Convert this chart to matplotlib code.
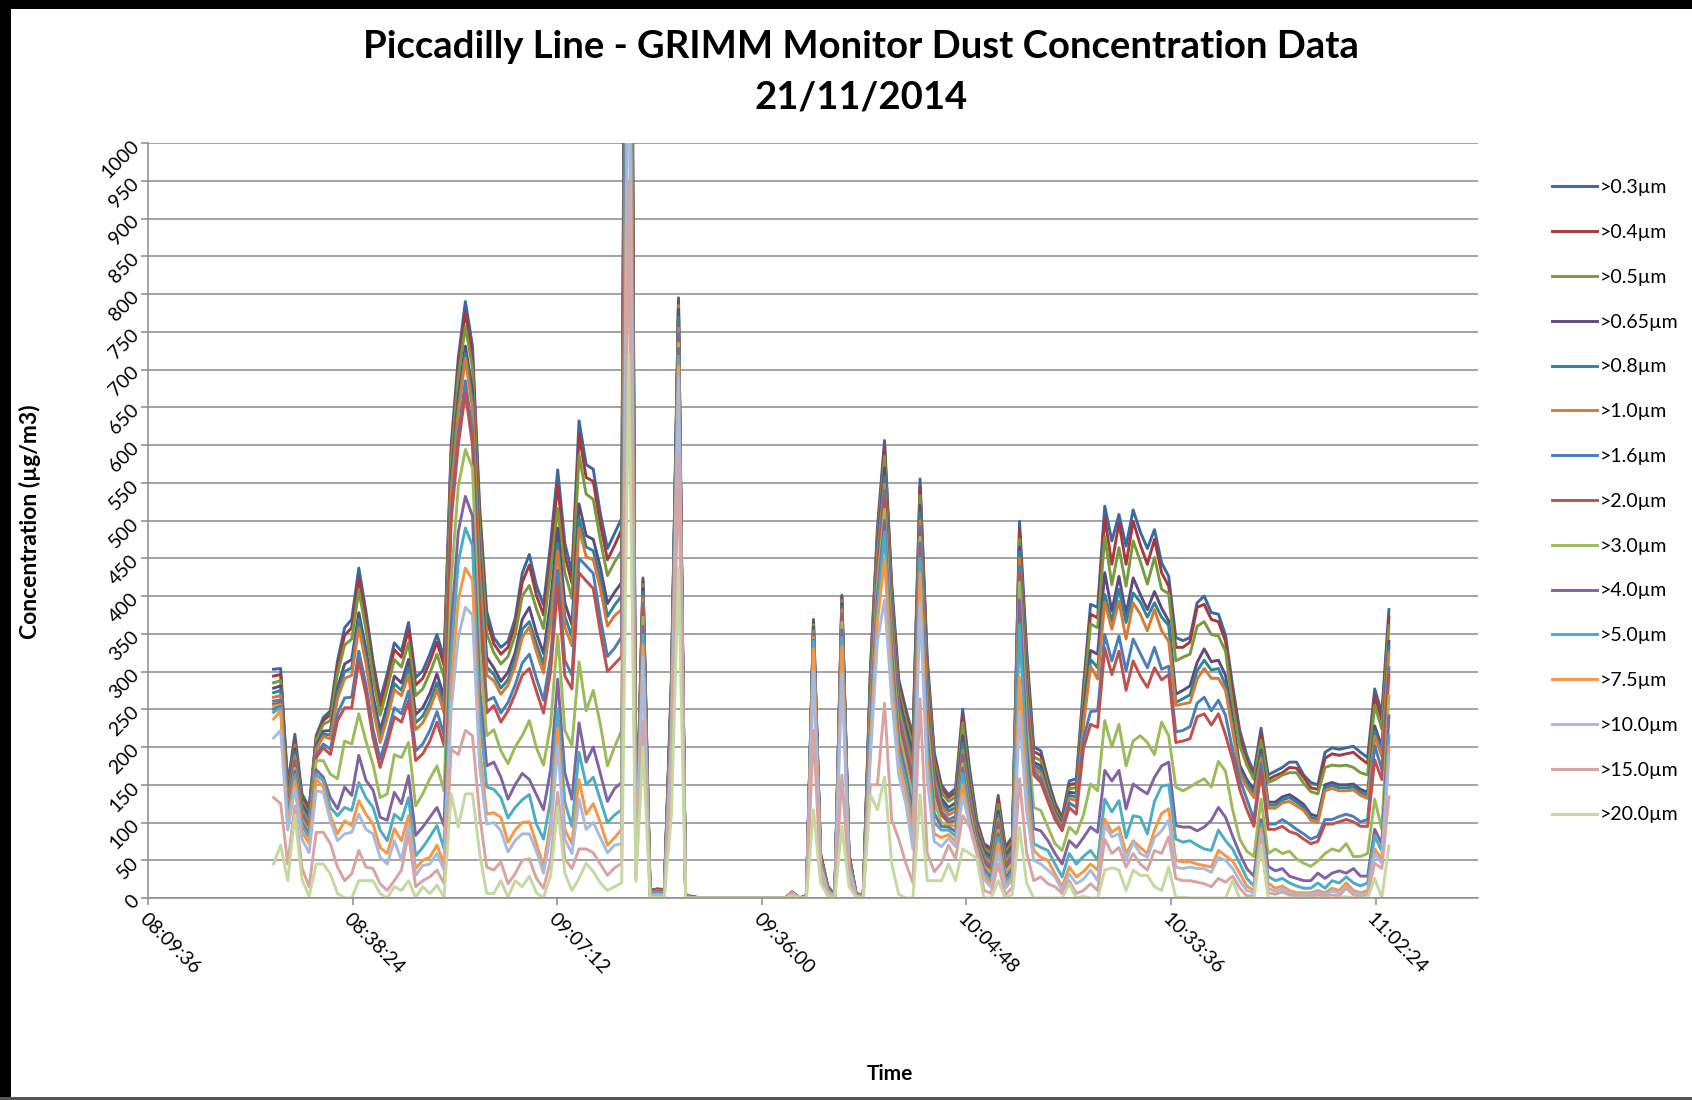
import datetime as dt

import matplotlib
matplotlib.use("Agg")
import matplotlib.pyplot as plt
import matplotlib.dates as mdates
from matplotlib.patches import Rectangle

# one reading per minute, first sample ~08:27
START = dt.datetime(2014, 11, 21, 8, 27, 16)
STEP_MIN = 1

SIZES = [">0.3µm", ">0.4µm", ">0.5µm", ">0.65µm", ">0.8µm", ">1.0µm", ">1.6µm",
         ">2.0µm", ">3.0µm", ">4.0µm", ">5.0µm", ">7.5µm", ">10.0µm", ">15.0µm",
         ">20.0µm"]
COLORS = ["#3A68A4", "#A6393B", "#779A3D", "#5F4A80", "#2E8599", "#D77A35",
          "#4A7EBB", "#C0504D", "#9BBB59", "#8064A2", "#4BACC6", "#F79646",
          "#A7B9DD", "#D9A3A2", "#C4D8A0"]

# concentrations in ug/m3
gt_0_3 = [303, 304, 150, 217, 138, 120, 215, 239, 248, 314,
          358, 369, 437, 380, 314, 262, 297, 338, 327, 365,
          292, 301, 323, 349, 318, 600, 715, 790, 731, 520,
          380, 345, 332, 340, 370, 430, 455, 414, 388, 470,
          567, 470, 431, 632, 574, 568, 509, 463, 483, 503,
          2200, 45, 424, 10, 12, 11, 290, 795, 3, 2,
          0, 0, 0, 0, 0, 0, 0, 0, 0, 0,
          0, 0, 0, 8, 0, 3, 369, 59, 16, 3,
          401, 59, 6, 3, 300, 490, 606, 418, 290, 250,
          215, 555, 320, 193, 150, 137, 145, 250, 169, 103,
          72, 66, 136, 68, 81, 499, 330, 200, 195, 158,
          126, 107, 155, 158, 280, 389, 385, 519, 473, 508,
          466, 514, 485, 463, 488, 444, 426, 345, 341, 345,
          391, 400, 378, 376, 348, 281, 222, 189, 166, 225,
          163, 168, 173, 180, 180, 163, 153, 150, 193, 199,
          197, 199, 201, 193, 186, 277, 245, 382]
gt_0_4 = [294, 296, 145, 210, 133, 116, 212, 235, 243, 307,
          348, 358, 424, 370, 305, 254, 289, 329, 319, 356,
          282, 291, 313, 339, 308, 591, 705, 776, 719, 507,
          368, 337, 323, 332, 361, 418, 441, 401, 375, 455,
          548, 454, 417, 614, 557, 552, 495, 448, 467, 488,
          2150, 44, 420, 10, 12, 11, 285, 790, 3, 2,
          0, 0, 0, 0, 0, 0, 0, 0, 0, 0,
          0, 0, 0, 8, 0, 3, 366, 58, 16, 3,
          398, 58, 6, 3, 295, 483, 598, 410, 283, 244,
          208, 545, 312, 188, 146, 133, 140, 243, 163, 99,
          69, 63, 131, 65, 78, 488, 318, 194, 189, 153,
          122, 104, 150, 152, 272, 376, 371, 504, 442, 497,
          442, 499, 468, 442, 475, 431, 413, 332, 332, 339,
          385, 389, 369, 366, 340, 270, 212, 182, 160, 218,
          157, 162, 166, 173, 172, 160, 146, 144, 185, 191,
          189, 191, 193, 185, 178, 268, 235, 372]
gt_0_5 = [285, 288, 140, 203, 128, 112, 209, 230, 235, 297,
          335, 343, 407, 356, 292, 242, 277, 316, 306, 338,
          268, 277, 298, 323, 292, 578, 690, 757, 702, 489,
          350, 325, 310, 320, 348, 400, 414, 383, 357, 433,
          516, 431, 397, 587, 535, 528, 474, 427, 445, 460,
          2100, 43, 415, 9, 11, 10, 280, 785, 3, 2,
          0, 0, 0, 0, 0, 0, 0, 0, 0, 0,
          0, 0, 0, 8, 0, 3, 362, 57, 15, 3,
          394, 57, 6, 3, 290, 476, 585, 400, 275, 236,
          200, 533, 303, 180, 140, 128, 134, 232, 155, 95,
          66, 60, 124, 61, 74, 475, 305, 187, 182, 148,
          118, 101, 145, 146, 262, 363, 358, 479, 415, 464,
          413, 473, 446, 416, 451, 409, 403, 314, 319, 323,
          360, 366, 349, 347, 327, 255, 202, 176, 157, 209,
          153, 157, 163, 166, 166, 152, 141, 138, 173, 176,
          175, 176, 173, 166, 163, 255, 224, 360]
gt_0_65 = [278, 281, 135, 198, 124, 108, 202, 221, 222, 278,
           310, 316, 378, 330, 268, 222, 255, 294, 285, 316,
           243, 252, 271, 297, 266, 555, 663, 731, 672, 457,
           319, 305, 287, 299, 325, 369, 385, 351, 324, 394,
           490, 391, 362, 522, 480, 475, 438, 390, 405, 418,
           2050, 42, 410, 9, 11, 10, 275, 780, 3, 2,
           0, 0, 0, 0, 0, 0, 0, 0, 0, 0,
           0, 0, 0, 8, 0, 3, 359, 56, 15, 3,
           390, 56, 5, 3, 283, 468, 570, 390, 266, 226,
           190, 520, 292, 172, 132, 120, 126, 215, 145, 89,
           62, 55, 115, 56, 69, 465, 290, 180, 175, 142,
           114, 98, 140, 139, 245, 328, 323, 431, 380, 426,
           376, 424, 402, 382, 406, 384, 367, 270, 275, 281,
           312, 330, 313, 315, 295, 235, 176, 157, 144, 196,
           127, 127, 134, 137, 131, 124, 111, 108, 150, 153,
           150, 150, 151, 144, 140, 228, 200, 340]
gt_0_8 = [272, 275, 130, 193, 120, 104, 199, 217, 216, 271,
          300, 305, 369, 320, 258, 213, 246, 284, 275, 305,
          232, 241, 260, 285, 254, 545, 652, 721, 659, 443,
          306, 296, 278, 289, 315, 356, 366, 337, 309, 377,
          470, 373, 346, 503, 465, 460, 423, 373, 388, 400,
          2000, 41, 405, 8, 10, 9, 270, 770, 2, 1,
          0, 0, 0, 0, 0, 0, 0, 0, 0, 0,
          0, 0, 0, 7, 0, 2, 356, 55, 14, 3,
          386, 55, 5, 3, 278, 460, 558, 382, 258, 218,
          180, 510, 283, 165, 127, 115, 120, 205, 138, 85,
          59, 51, 110, 52, 65, 458, 280, 176, 170, 139,
          112, 96, 136, 134, 235, 316, 305, 402, 367, 409,
          365, 404, 392, 372, 391, 372, 361, 259, 264, 269,
          301, 315, 302, 304, 282, 228, 170, 152, 139, 190,
          123, 123, 130, 133, 127, 120, 107, 104, 146, 149,
          146, 146, 147, 140, 136, 221, 194, 332]
gt_1_0 = [266, 268, 125, 188, 116, 100, 197, 214, 211, 264,
          291, 295, 358, 311, 250, 206, 238, 276, 268, 296,
          223, 232, 251, 276, 245, 537, 643, 715, 648, 432,
          295, 288, 270, 282, 307, 345, 359, 326, 298, 363,
          460, 359, 334, 490, 452, 448, 410, 360, 374, 382,
          1950, 40, 398, 8, 10, 9, 265, 755, 2, 1,
          0, 0, 0, 0, 0, 0, 0, 0, 0, 0,
          0, 0, 0, 7, 0, 2, 353, 54, 14, 3,
          382, 54, 5, 3, 272, 452, 548, 373, 250, 210,
          170, 500, 275, 158, 122, 110, 115, 196, 132, 81,
          55, 47, 105, 48, 61, 450, 270, 172, 165, 136,
          110, 94, 132, 129, 228, 307, 290, 392, 356, 393,
          343, 391, 376, 354, 382, 354, 340, 255, 257, 259,
          290, 304, 291, 291, 275, 222, 165, 147, 133, 185,
          119, 119, 126, 128, 122, 116, 103, 100, 142, 145,
          142, 142, 143, 136, 132, 214, 188, 325]
gt_1_6 = [261, 262, 120, 182, 112, 96, 189, 204, 197, 244,
          265, 266, 327, 283, 224, 184, 215, 252, 244, 274,
          195, 204, 222, 247, 216, 512, 614, 685, 616, 397,
          261, 266, 245, 259, 282, 311, 323, 291, 262, 320,
          434, 315, 295, 450, 440, 430, 371, 320, 331, 346,
          1900, 39, 390, 7, 9, 8, 260, 748, 2, 1,
          0, 0, 0, 0, 0, 0, 0, 0, 0, 0,
          0, 0, 0, 7, 0, 2, 350, 53, 13, 2,
          376, 52, 5, 2, 265, 440, 540, 362, 240, 200,
          158, 492, 262, 150, 115, 104, 108, 190, 126, 77,
          50, 42, 100, 43, 56, 440, 258, 168, 158, 132,
          107, 91, 126, 120, 210, 247, 248, 349, 314, 347,
          301, 343, 324, 305, 332, 303, 307, 220, 222, 227,
          258, 266, 248, 262, 242, 196, 157, 131, 104, 178,
          98, 98, 104, 98, 91, 85, 78, 82, 104, 104,
          108, 111, 108, 101, 104, 202, 170, 305]
gt_2_0 = [257, 258, 117, 178, 108, 92, 186, 199, 190, 235,
          252, 252, 314, 270, 212, 173, 204, 240, 233, 261,
          182, 191, 208, 233, 202, 500, 600, 669, 600, 380,
          245, 255, 233, 248, 270, 295, 304, 274, 245, 300,
          414, 294, 277, 431, 420, 410, 352, 300, 310, 320,
          1850, 38, 384, 7, 9, 8, 255, 740, 2, 1,
          0, 0, 0, 0, 0, 0, 0, 0, 0, 0,
          0, 0, 0, 7, 0, 2, 348, 52, 13, 2,
          372, 51, 5, 2, 260, 432, 530, 355, 233, 192,
          150, 485, 255, 143, 110, 100, 103, 185, 121, 74,
          47, 38, 96, 39, 52, 430, 250, 163, 153, 128,
          104, 89, 120, 111, 198, 230, 226, 331, 296, 327,
          275, 314, 294, 279, 305, 289, 296, 206, 208, 211,
          240, 244, 229, 244, 216, 183, 144, 117, 95, 168,
          91, 91, 95, 88, 85, 78, 72, 75, 98, 98,
          101, 104, 101, 95, 95, 183, 157, 295]
gt_3_0 = [254, 256, 112, 172, 104, 88, 182, 182, 164, 158,
          208, 204, 244, 208, 177, 133, 138, 190, 186, 206,
          122, 138, 158, 175, 142, 420, 545, 594, 570, 330,
          215, 223, 195, 178, 200, 215, 235, 199, 176, 230,
          349, 222, 202, 313, 248, 275, 230, 175, 200, 222,
          1700, 36, 372, 6, 8, 7, 245, 735, 2, 1,
          0, 0, 0, 0, 0, 0, 0, 0, 0, 0,
          0, 0, 0, 7, 0, 2, 345, 50, 12, 2,
          365, 49, 4, 2, 245, 415, 515, 340, 220, 178,
          130, 478, 235, 128, 100, 97, 95, 178, 113, 70,
          42, 32, 90, 32, 45, 418, 230, 120, 116, 94,
          72, 63, 94, 85, 110, 151, 142, 235, 200, 230,
          175, 208, 215, 206, 190, 233, 215, 147, 142, 147,
          153, 158, 147, 181, 168, 117, 78, 62, 55, 131,
          59, 65, 59, 62, 52, 46, 42, 49, 59, 65,
          62, 72, 55, 55, 59, 131, 91, 268]
gt_4_0 = [250, 254, 108, 168, 100, 84, 170, 160, 133, 118,
          147, 136, 189, 156, 143, 107, 103, 140, 125, 162,
          83, 94, 107, 120, 96, 360, 485, 532, 506, 280,
          175, 180, 160, 131, 150, 165, 157, 137, 117, 170,
          290, 166, 131, 232, 180, 200, 165, 128, 145, 153,
          1600, 34, 360, 5, 7, 6, 235, 728, 1, 1,
          0, 0, 0, 0, 0, 0, 0, 0, 0, 0,
          0, 0, 0, 7, 0, 2, 342, 48, 11, 2,
          355, 47, 4, 2, 230, 400, 500, 325, 205, 165,
          115, 470, 215, 112, 95, 94, 88, 172, 106, 67,
          38, 27, 85, 26, 39, 395, 205, 92, 89, 76,
          59, 45, 76, 67, 80, 94, 87, 169, 155, 169,
          118, 151, 144, 138, 160, 175, 180, 96, 94, 94,
          89, 94, 103, 120, 107, 82, 59, 39, 29, 104,
          42, 36, 39, 29, 26, 23, 23, 33, 26, 33,
          36, 33, 39, 29, 29, 91, 72, 241]
gt_5_0 = [246, 252, 104, 163, 96, 80, 164, 155, 120, 109,
          120, 116, 153, 133, 120, 90, 76, 111, 103, 133,
          56, 67, 81, 96, 65, 320, 445, 490, 467, 245,
          147, 144, 133, 106, 120, 130, 137, 98, 78, 130,
          251, 127, 95, 193, 150, 160, 130, 100, 110, 117,
          1500, 32, 348, 5, 6, 5, 225, 718, 1, 0,
          0, 0, 0, 0, 0, 0, 0, 0, 0, 0,
          0, 0, 0, 7, 0, 2, 340, 46, 10, 2,
          345, 45, 4, 2, 215, 385, 485, 310, 195, 155,
          100, 450, 200, 100, 90, 90, 82, 165, 101, 64,
          34, 23, 80, 22, 34, 362, 180, 72, 67, 63,
          45, 28, 59, 45, 55, 63, 50, 131, 114, 129,
          80, 109, 107, 85, 128, 148, 150, 78, 74, 76,
          70, 65, 63, 90, 76, 65, 46, 26, 16, 98,
          29, 23, 26, 20, 16, 13, 13, 20, 13, 23,
          20, 28, 20, 16, 20, 82, 62, 215]
gt_7_5 = [237, 248, 98, 155, 88, 72, 158, 147, 109, 85,
          102, 96, 129, 111, 98, 67, 59, 92, 76, 109,
          39, 50, 54, 70, 45, 280, 395, 437, 421, 200,
          111, 113, 107, 74, 90, 100, 101, 72, 42, 100,
          225, 91, 72, 157, 111, 125, 100, 70, 80, 91,
          1400, 30, 335, 4, 5, 4, 215, 705, 1, 0,
          0, 0, 0, 0, 0, 0, 0, 0, 0, 0,
          0, 0, 0, 7, 0, 1, 330, 43, 9, 2,
          333, 42, 3, 2, 200, 365, 450, 290, 180, 140,
          85, 430, 180, 85, 80, 84, 75, 150, 98, 62,
          30, 18, 72, 17, 28, 292, 140, 63, 54, 50,
          32, 15, 41, 28, 35, 45, 37, 105, 87, 94,
          59, 76, 67, 59, 90, 112, 118, 50, 48, 48,
          45, 43, 41, 63, 56, 49, 33, 16, 10, 92,
          20, 13, 16, 10, 7, 7, 7, 10, 7, 13,
          10, 20, 10, 7, 10, 65, 52, 200]
gt_10_0 = [212, 222, 90, 145, 78, 60, 142, 140, 102, 76,
           85, 87, 111, 91, 85, 54, 45, 76, 50, 98,
           30, 43, 45, 59, 37, 250, 345, 385, 375, 175,
           98, 100, 89, 61, 76, 85, 85, 62, 33, 85,
           202, 78, 59, 131, 91, 100, 80, 60, 70, 72,
           1250, 28, 320, 3, 4, 3, 205, 690, 1, 0,
           0, 0, 0, 0, 0, 0, 0, 0, 0, 0,
           0, 0, 0, 7, 0, 1, 300, 40, 8, 1,
           297, 38, 3, 1, 185, 340, 395, 265, 163, 125,
           65, 392, 160, 75, 68, 79, 68, 135, 96, 60,
           25, 14, 60, 13, 24, 244, 115, 50, 45, 37,
           28, 10, 32, 19, 25, 37, 23, 96, 81, 85,
           50, 74, 59, 54, 80, 89, 103, 41, 39, 41,
           39, 39, 34, 54, 50, 39, 23, 10, 7, 85,
           13, 9, 12, 7, 5, 5, 5, 7, 5, 9,
           7, 15, 7, 5, 7, 59, 46, 189]
gt_15_0 = [133, 125, 45, 122, 40, 15, 87, 87, 72, 41,
           23, 32, 63, 41, 39, 19, 10, 23, 37, 85,
           15, 23, 28, 37, 19, 197, 190, 222, 215, 110,
           41, 37, 48, 19, 32, 50, 52, 26, 13, 50,
           140, 52, 39, 65, 65, 60, 45, 30, 40, 46,
           950, 25, 235, 2, 2, 2, 160, 587, 0, 0,
           0, 0, 0, 0, 0, 0, 0, 0, 0, 0,
           0, 0, 0, 7, 0, 1, 222, 30, 5, 1,
           163, 25, 2, 1, 150, 150, 258, 104, 78, 46,
           20, 264, 60, 35, 46, 70, 52, 109, 94, 59,
           10, 6, 45, 4, 14, 158, 60, 23, 28, 19,
           15, 6, 23, 6, 10, 19, 10, 78, 59, 67,
           41, 59, 45, 37, 63, 59, 81, 26, 23, 23,
           21, 19, 15, 26, 21, 29, 13, 3, 3, 78,
           7, 5, 8, 4, 3, 2, 2, 4, 3, 4,
           3, 13, 4, 2, 5, 46, 39, 134]
gt_20_0 = [45, 70, 23, 110, 25, 2, 45, 45, 32, 6,
           0, 0, 23, 23, 23, 6, 0, 15, 10, 23,
           1, 15, 6, 17, 1, 138, 94, 138, 138, 60,
           6, 6, 23, 1, 23, 15, 29, 7, 0, 30,
           121, 33, 10, 26, 46, 35, 20, 10, 15, 20,
           720, 22, 200, 1, 1, 1, 110, 437, 0, 0,
           0, 0, 0, 0, 0, 0, 0, 0, 0, 0,
           0, 0, 0, 3, 0, 0, 117, 20, 3, 0,
           95, 15, 1, 0, 137, 117, 160, 46, 5, 0,
           0, 137, 23, 23, 23, 45, 23, 65, 59, 52,
           0, 0, 23, 0, 5, 94, 20, 0, 0, 0,
           0, 0, 19, 0, 2, 0, 0, 37, 40, 37,
           10, 37, 30, 30, 15, 10, 41, 1, 1, 0,
           0, 0, 0, 0, 0, 23, 0, 0, 0, 70,
           0, 0, 0, 0, 0, 0, 0, 0, 0, 0,
           0, 2, 0, 0, 0, 26, 0, 69]

SERIES = [gt_0_3, gt_0_4, gt_0_5, gt_0_65, gt_0_8, gt_1_0, gt_1_6, gt_2_0,
          gt_3_0, gt_4_0, gt_5_0, gt_7_5, gt_10_0, gt_15_0, gt_20_0]

# axis ticks every 28:48 from 08:09:36, as Excel placed them
AXIS_START = dt.datetime(2014, 11, 21, 8, 9, 36)
TICK_STEP = dt.timedelta(minutes=28, seconds=48)

FONT = "Lato"


def main():
    times = [START + dt.timedelta(minutes=STEP_MIN * i) for i in range(len(gt_0_3))]

    fig = plt.figure(figsize=(16.92, 11.0), dpi=100)
    ax = fig.add_axes([0.0875, 0.1836, 0.786, 0.6864])

    for vals, lab, col in zip(SERIES, SIZES, COLORS):
        ax.plot(times, vals, color=col, lw=2.1, label=lab, solid_joinstyle="round")

    ax.set_ylim(0, 1000)
    ax.set_yticks(range(0, 1001, 50))
    ax.set_xlim(AXIS_START, AXIS_START + 6.5 * TICK_STEP)
    ax.set_xticks([AXIS_START + k * TICK_STEP for k in range(7)])
    ax.xaxis.set_major_formatter(mdates.DateFormatter("%H:%M:%S"))

    ax.grid(axis="y", color="#8a8a8a", lw=1.1)
    ax.set_axisbelow(True)
    for side in ("top", "right"):
        ax.spines[side].set_visible(False)
    for side in ("left", "bottom"):
        ax.spines[side].set_color("#8a8a8a")
        ax.spines[side].set_linewidth(1.1)
    ax.tick_params(axis="both", colors="#8a8a8a", length=5, width=1.1)

    for lbl in ax.get_xticklabels():
        lbl.set(rotation=-45, ha="left", va="top", rotation_mode="anchor",
                fontsize=14, family=FONT, color="black")
    for lbl in ax.get_yticklabels():
        lbl.set(rotation=45, ha="right", va="center", rotation_mode="anchor",
                fontsize=14, family=FONT, color="black")

    fig.text(0.509, 0.957, "Piccadilly Line - GRIMM Monitor Dust Concentration Data",
             ha="center", va="center", fontsize=27.5, fontweight="bold", family=FONT)
    fig.text(0.509, 0.911, "21/11/2014", ha="center", va="center",
             fontsize=27.5, fontweight="bold", family=FONT)
    fig.text(0.526, 0.024, "Time", ha="center", va="center", fontsize=15,
             fontweight="bold", family=FONT)
    fig.text(0.018, 0.526, "Concentration (µg/m3)", ha="center", va="center",
             rotation=90, fontsize=16.5, fontweight="bold", family=FONT)

    fig.legend(loc="upper left", bbox_to_anchor=(0.907, 0.853), frameon=False,
               prop={"family": FONT, "size": 14}, handlelength=2.3,
               handletextpad=0.15, labelspacing=1.43)

    # chart frame: heavy black left/top edge, grey bottom edge
    fig.add_artist(Rectangle((0, 0), 0.0065, 1, transform=fig.transFigure,
                             color="black", lw=0))
    fig.add_artist(Rectangle((0, 0.992), 1, 0.008, transform=fig.transFigure,
                             color="black", lw=0))
    fig.add_artist(Rectangle((0, 0), 1, 0.003, transform=fig.transFigure,
                             color="#555555", lw=0))

    fig.savefig("out.png", dpi=100)


if __name__ == "__main__":
    main()
